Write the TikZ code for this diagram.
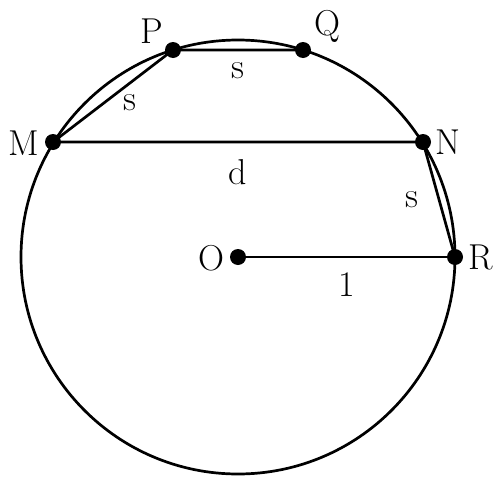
\documentclass[tikz,border=0pt]{standalone}
\usepackage{amsmath}
\usetikzlibrary{shapes,arrows}

\begin{document}
\begin{tikzpicture}[x=0.5pt,y=-0.5pt,line width=1.35pt]
\tikzstyle{every node}=[font=\fontsize{18}{21}\selectfont]
\tikzstyle{pt}=[circle,fill=black,inner sep=0pt,minimum size=8pt]
\useasboundingbox (0,0) rectangle (504,477);
\coordinate (O) at (238,257);
\coordinate (P) at (173,50);
\coordinate (Q) at (303,50);
\coordinate (M) at (53,142);
\coordinate (N) at (423,142);
\coordinate (R) at (455,257);
\draw (O) circle [radius=108.5pt];
\draw (M) -- (P) -- (Q);
\draw (M) -- (N) -- (R);
\draw (O) -- (R);
\foreach \p in {O,P,Q,M,N,R}
  \node[pt] (dot\p) at (\p) {};
% labels
\node (labP) at (152,31) {P};
\node (labQ) at (327,26) {Q};
\node (labM) at (24,143) {M};
\node (labN) at (448,142) {N};
\node (labR) at (481,257) {R};
\node (labO) at (211,258) {O};
\node (labPQ) at (238,71) {s};
\node (labMP) at (130,103) {s};
\node (labMN) at (238,172) {d};
\node (labNR) at (412,200) {s};
\node (labOR) at (347,285) {1};
\end{tikzpicture}
\end{document}
